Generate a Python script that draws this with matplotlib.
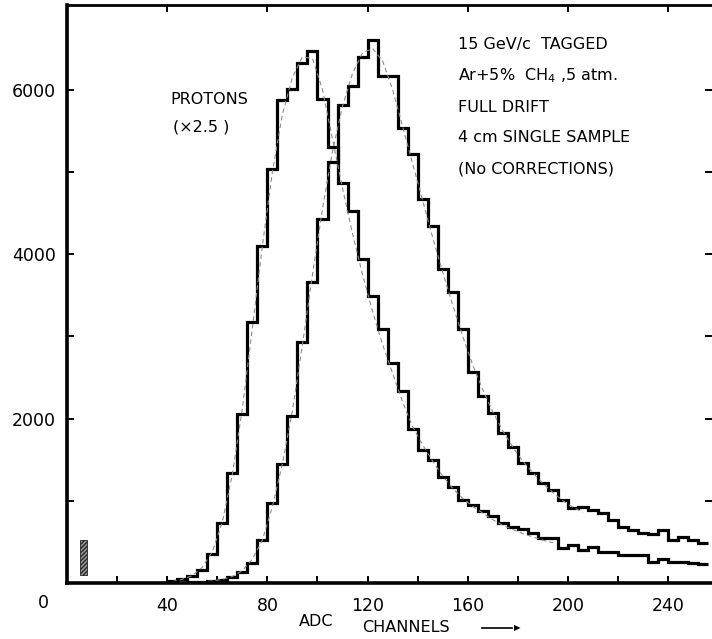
import numpy as np
import matplotlib.pyplot as plt
from matplotlib.patches import Rectangle

# histogram bins: 4 ADC channels wide, starting at channel 40
bin_start = 40
bin_width = 4

# protons (already scaled x2.5), one value per bin 40..252
protons = [20, 50, 85, 160, 350, 730, 1340, 2060, 3170, 4100,
           5040, 5870, 6010, 6320, 6470, 5890, 5300, 4860, 4520, 3940,
           3490, 3090, 2680, 2330, 1870, 1620, 1500, 1290, 1170, 1010,
           950, 870, 810, 730, 680, 660, 610, 550, 550, 430,
           460, 400, 440, 380, 380, 340, 340, 340, 260, 290,
           260, 260, 240, 230]

# the tagged beam particles (taller peak)
pions = [0, 0, 10, 15, 20, 40, 75, 135, 240, 525,
         975, 1450, 2030, 2930, 3660, 4430, 5120, 5810, 6050, 6400,
         6600, 6170, 6170, 5530, 5220, 4670, 4340, 3820, 3540, 3090,
         2570, 2270, 2070, 1830, 1660, 1460, 1340, 1220, 1130, 1010,
         910, 920, 890, 850, 770, 680, 650, 610, 590, 650,
         525, 560, 525, 490]

# dashed fitted curves, read at bin centres
fit_ch_p = list(range(42, 198, 4))
fit_p = [15, 45, 90, 190, 380, 740, 1320, 2120, 3100, 4100,
         5000, 5700, 6150, 6400, 6380, 6000, 5400, 4800, 4250, 3750,
         3300, 2900, 2550, 2200, 1900, 1680, 1480, 1300, 1150, 1030,
         930, 850, 770, 700, 650, 600, 560, 520, 490]
fit_ch_pi = list(range(50, 210, 4))
fit_pi = [10, 15, 25, 45, 80, 150, 290, 520, 930, 1450,
          2100, 2900, 3750, 4550, 5250, 5800, 6200, 6450, 6500, 6350,
          6000, 5550, 5100, 4650, 4200, 3780, 3380, 3000, 2650, 2350,
          2080, 1850, 1650, 1480, 1340, 1210, 1100, 1000, 920, 860]

x_ticks = [40, 80, 120, 160, 200, 240]
y_ticks = [2000, 4000, 6000]

W, H = 712, 639
fig = plt.figure(figsize=(W / 100, H / 100), dpi=100)
ax = fig.add_axes([67 / W, 1 - 583 / H, (W - 67) / W, (583 - 5) / H])

edges = bin_start + bin_width * np.arange(len(protons) + 1)
ax.stairs(protons, edges, baseline=None, color='black', lw=2.3)
ax.stairs(pions, edges, baseline=None, color='black', lw=2.3)
ax.plot(fit_ch_p, fit_p, ls=(0, (4, 3)), color='0.55', lw=0.8)
ax.plot(fit_ch_pi, fit_pi, ls=(0, (4, 3)), color='0.55', lw=0.8)

# little hatched marker near the origin
ax.add_patch(Rectangle((5, 100), 3, 420, facecolor='0.6', edgecolor='0.15',
                       hatch='////////', lw=0.6))

ax.set_xlim(0, 257.5)
ax.set_ylim(0, 7030)

ax.set_xticks(x_ticks)
ax.set_xticks(range(20, 260, 40), minor=True)
ax.set_yticks(y_ticks)
ax.set_yticks([1000, 3000, 5000], minor=True)
ax.tick_params(which='both', direction='in', width=1.4, length=5, labelsize=12.5)
ax.tick_params(axis='x', which='major', top=True, pad=10)
ax.tick_params(axis='x', which='minor', top=False)
ax.tick_params(axis='y', which='both', right=True, pad=8)

ax.spines['left'].set_linewidth(2.6)
ax.spines['bottom'].set_linewidth(2.6)
ax.spines['top'].set_linewidth(2.0)
ax.spines['right'].set_visible(False)

fig.text(43 / W, 1 - 603 / H, '0', ha='center', va='center', fontsize=12.5)

notes = ['15 GeV/c  TAGGED', 'Ar+5%  CH$_4$ ,5 atm.', 'FULL DRIFT',
         '4 cm SINGLE SAMPLE', '(No CORRECTIONS)']
for i, s in enumerate(notes):
    fig.text(458 / W, 1 - (45 + 31 * i) / H, s, ha='left', va='center', fontsize=11.5)

fig.text(170 / W, 1 - 100 / H, 'PROTONS', ha='left', va='center', fontsize=11.5)
fig.text(173 / W, 1 - 127 / H, '(×2.5 )', ha='left', va='center', fontsize=11.5)

fig.text(316 / W, 1 - 622 / H, 'ADC', ha='center', va='center', fontsize=11.5)
fig.text(362 / W, 1 - 628 / H, 'CHANNELS', ha='left', va='center', fontsize=11.5)
fig.add_artist(plt.Line2D([482 / W, 512 / W], [1 - 628 / H, 1 - 628 / H],
                          color='black', lw=1.2))
fig.text(520 / W, 1 - 628 / H, '▶', ha='right', va='center', fontsize=6)

fig.savefig('out.png', dpi=100, facecolor='white')
